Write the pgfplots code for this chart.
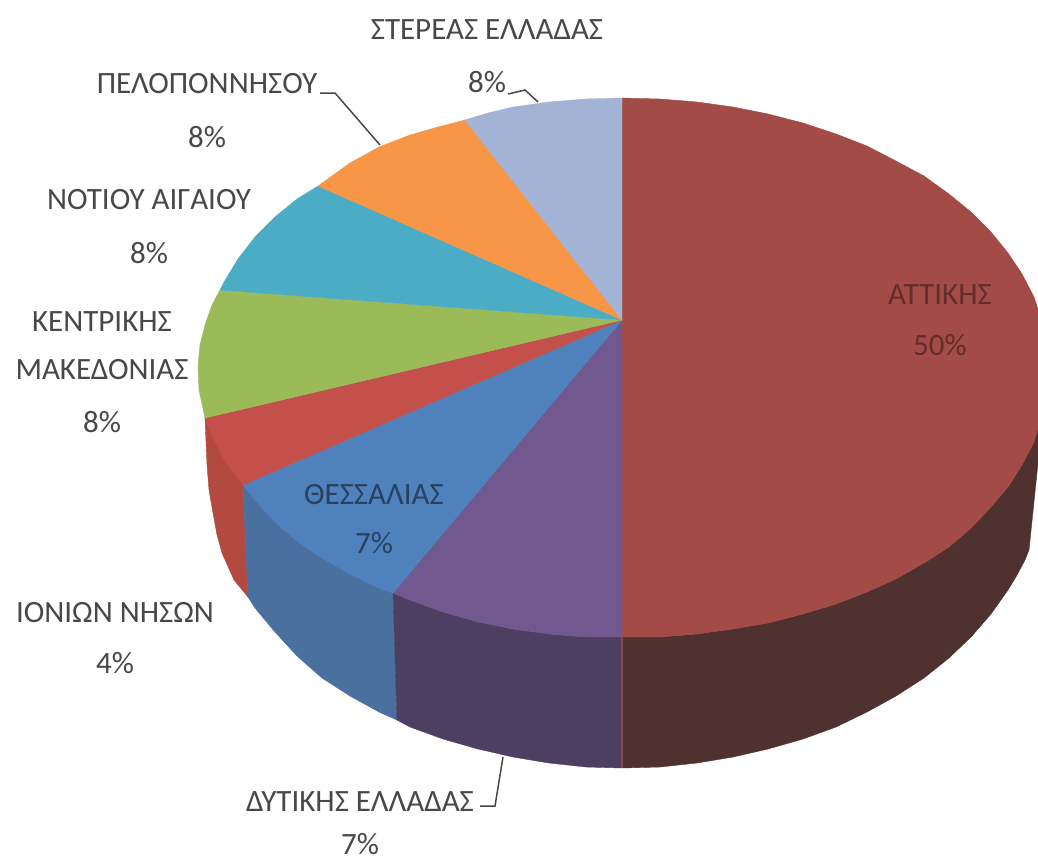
\documentclass[border=0pt]{standalone}
\usepackage{pgfplots}
\pgfplotsset{compat=1.18}
\usepackage{fontspec}
\setmainfont{Carlito}
\definecolor{cA}{HTML}{A34B47}\definecolor{cAs}{HTML}{4F3130}
\definecolor{cP}{HTML}{71588F}\definecolor{cPs}{HTML}{4D3F62}
\definecolor{cB}{HTML}{4F81BD}\definecolor{cBs}{HTML}{4A70A0}
\definecolor{cI}{HTML}{C4504C}\definecolor{cIs}{HTML}{B24A40}
\definecolor{cG}{HTML}{9BBB59}\definecolor{cT}{HTML}{4BACC6}
\definecolor{cO}{HTML}{F79646}\definecolor{cL}{HTML}{A3B3D6}
\definecolor{txt}{HTML}{484848}
\begin{document}
\begin{tikzpicture}
\begin{axis}[name=a,width=1038pt,height=859pt,scale only axis,axis lines=none,
  xmin=0,xmax=1038,ymin=0,ymax=859,y dir=reverse,clip=true,
  every axis plot/.append style={line width=0.4pt},
  nodes={inner sep=0pt}]
% sides
\addplot[fill=cIs,draw=cIs] coordinates {(205,418)(207,465)(209,490)(213,513)(217,535)(222,553)(234,580)(248,597)(243,485)} --cycle;
\addplot[fill=cBs,draw=cBs] coordinates {(243,485)(248,597)(255,608)(275,632)(297,656)(322,678)(350,696)(379,712)(397,720)(393,593)(379,588)(350,574)(322,558)(297,541)(275,522)(255,500)} --cycle;
\addplot[fill=cPs,draw=cPs] coordinates {(393,593)(397,720)(410,727)(443,739)(478,749)(513,757)(549,763)(586,767)(622,768)(622,637)(586,637)(549,634)(513,629)(478,622)(443,612)(410,600)} --cycle;
\addplot[fill=cAs,draw=cAs] coordinates {(622,637)(622,768)(660,767)(697,763)(733,757)(768,749)(803,739)(836,727)(867,712)(896,696)(924,678)(949,658)(971,637)(991,614)(1008,590)(1017,575)(1025,560)(1029,550)(1038,463)(1038,420)(1034,442)(1022,465)(1008,487)(991,507)(971,528)(949,547)(924,563)(896,579)(867,592)(836,604)(803,614)(768,623)(733,629)(697,634)(660,637)} --cycle;
\addplot[draw=cA!80!cAs,line width=1.5pt] coordinates {(622,637)(622,768)};
% top face
\addplot[fill=cA,draw=cA] coordinates {(622,320)(622,98)(660,99)(697,102)(733,107)(768,114)(803,123)(836,134)(867,146)(896,161)(924,176)(949,194)(971,212)(991,232)(1008,253)(1022,274)(1034,297)(1038,309)(1038,428)(1034,442)(1022,465)(1008,487)(991,507)(971,528)(949,547)(924,563)(896,579)(867,592)(836,604)(803,614)(768,623)(733,629)(697,634)(660,637)(622,637)} --cycle;
\addplot[fill=cP,draw=cP] coordinates {(622,320)(622,637)(586,637)(549,634)(513,629)(478,622)(443,612)(410,600)(393,593)} --cycle;
\addplot[fill=cB,draw=cB] coordinates {(622,320)(393,593)(379,588)(350,574)(322,558)(297,541)(275,522)(255,500)(243,485)} --cycle;
\addplot[fill=cI,draw=cI] coordinates {(622,320)(243,485)(224,460)(213,438)(205,418)} --cycle;
\addplot[fill=cG,draw=cG] coordinates {(622,320)(205,418)(199,390)(198,366)(200,345)(205,325)(212,305)(220,290)} --cycle;
\addplot[fill=cT,draw=cT] coordinates {(622,320)(220,290)(224,282)(238,259)(255,237)(275,217)(297,199)(318,186)} --cycle;
\addplot[fill=cO,draw=cO] coordinates {(622,320)(318,186)(350,163)(379,147)(410,135)(438,127)(465,120)} --cycle;
\addplot[fill=cL,draw=cL] coordinates {(622,320)(465,120)(488,113)(513,107)(549,102)(586,99)(622,98)} --cycle;
% leader lines
\addplot[draw=txt,line width=1.5pt] coordinates {(508,94)(525,90)(538,102)};
\addplot[draw=txt,line width=1.5pt] coordinates {(320,93)(335,93)(380,145)};
\addplot[draw=txt,line width=1.5pt] coordinates {(480,806)(495,806)(503,757)};
% labels
\def\fs{\fontsize{31}{34}\selectfont}
\node[text=txt,font=\fs] at (axis cs:487,30) {ΣΤΕΡΕΑΣ ΕΛΛΑΔΑΣ};
\node[text=txt,font=\fs] at (axis cs:487,82) {8\%};
\node[text=txt,font=\fs] at (axis cs:207,84) {ΠΕΛΟΠΟΝΝΗΣΟΥ};
\node[text=txt,font=\fs] at (axis cs:207,137) {8\%};
\node[text=txt,font=\fs] at (axis cs:149,200) {ΝΟΤΙΟΥ ΑΙΓΑΙΟΥ};
\node[text=txt,font=\fs] at (axis cs:149,253) {8\%};
\node[text=txt,font=\fs] at (axis cs:102,322) {ΚΕΝΤΡΙΚΗΣ};
\node[text=txt,font=\fs] at (axis cs:102,370) {ΜΑΚΕΔΟΝΙΑΣ};
\node[text=txt,font=\fs] at (axis cs:102,422) {8\%};
\node[text=txt,font=\fs] at (axis cs:115,613) {ΙΟΝΙΩΝ ΝΗΣΩΝ};
\node[text=txt,font=\fs] at (axis cs:115,663) {4\%};
\node[text=txt,font=\fs] at (axis cs:360,802) {ΔΥΤΙΚΗΣ ΕΛΛΑΔΑΣ};
\node[text=txt,font=\fs] at (axis cs:360,844) {7\%};
\node[text=cB!50!black,font=\fs] at (axis cs:374,495) {ΘΕΣΣΑΛΙΑΣ};
\node[text=cB!50!black,font=\fs] at (axis cs:374,543) {7\%};
\node[text=cA!60!black,font=\fs] at (axis cs:940,295) {ΑΤΤΙΚΗΣ};
\node[text=cA!60!black,font=\fs] at (axis cs:940,345) {50\%};
\end{axis}
\path[use as bounding box] (a.north west) rectangle (a.south east);
\end{tikzpicture}
\end{document}
